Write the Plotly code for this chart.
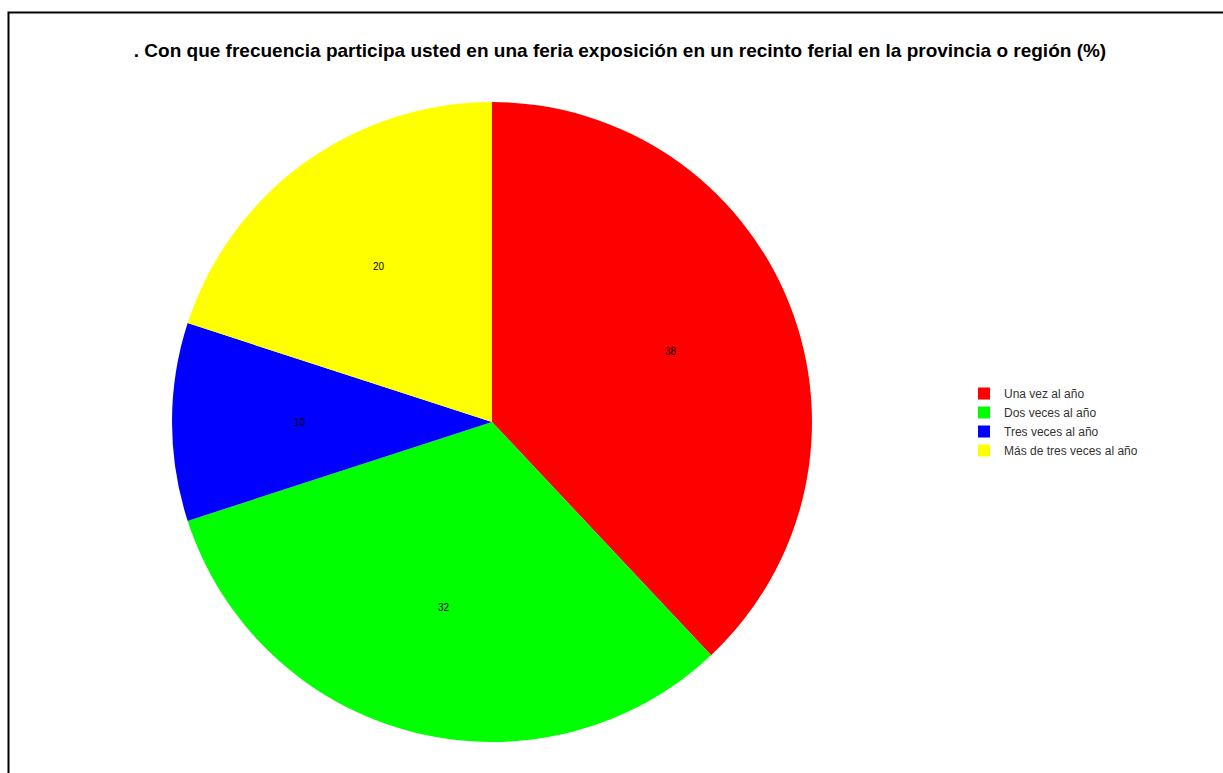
import math
import plotly.graph_objects as go

# Survey answers and their shares (%)
categories = ["Una vez al año", "Dos veces al año", "Tres veces al año", "Más de tres veces al año"]
values = [38, 32, 10, 20]
colors = ["#ff0000", "#00ff00", "#0000ff", "#ffff00"]

W, H = 1223, 773
cx, cy, r = 492, 422, 320  # pie centre / radius in pixels
label_radius = 0.6           # value labels sit at 60% of the radius

fig = go.Figure(
    go.Pie(
        labels=categories,
        values=values,
        textinfo="none",
        marker=dict(colors=colors, line=dict(width=0)),
        sort=False,
        direction="clockwise",
        rotation=0,
        hoverinfo="label+percent",
        domain=dict(
            x=[(cx - r) / W, (cx + r) / W],
            y=[(H - cy - r) / H, (H - cy + r) / H],
        ),
    )
)

# value labels at the middle angle of each slice
total = sum(values)
annotations = []
cum = 0
for v in values:
    theta = 2 * math.pi * (cum + v / 2) / total
    cum += v
    px = cx + label_radius * r * math.sin(theta)
    py = cy - label_radius * r * math.cos(theta)
    annotations.append(
        dict(
            x=px / W,
            y=1 - py / H,
            xref="paper",
            yref="paper",
            text=str(v),
            showarrow=False,
            xanchor="center",
            yanchor="middle",
            font=dict(family="Arial, Liberation Sans, sans-serif", size=10, color="#000000"),
        )
    )

fig.update_layout(
    width=W,
    height=H,
    margin=dict(l=0, r=0, t=0, b=0),
    paper_bgcolor="white",
    plot_bgcolor="white",
    title=dict(
        text=". Con que frecuencia participa usted en una feria exposición en un recinto ferial en la provincia o región (%)",
        x=620 / W,
        xanchor="center",
        y=1 - 50 / H,
        yanchor="middle",
        font=dict(family="Arial, Liberation Sans, sans-serif", size=19, color="#000000", weight="bold"),
    ),
    legend=dict(
        x=964 / W,
        xanchor="left",
        y=1 - 422 / H,
        yanchor="middle",
        font=dict(family="Arial, Liberation Sans, sans-serif", size=12, color="#333333"),
        itemwidth=30,
        traceorder="normal",
    ),
    annotations=annotations,
    shapes=[
        dict(
            type="rect",
            xref="paper",
            yref="paper",
            x0=8.5 / W,
            x1=1.05,
            y0=-0.05,
            y1=1 - 12.5 / H,
            line=dict(color="#000000", width=2),
            fillcolor="rgba(0,0,0,0)",
            layer="above",
        )
    ],
)

fig.write_html("out.html")
